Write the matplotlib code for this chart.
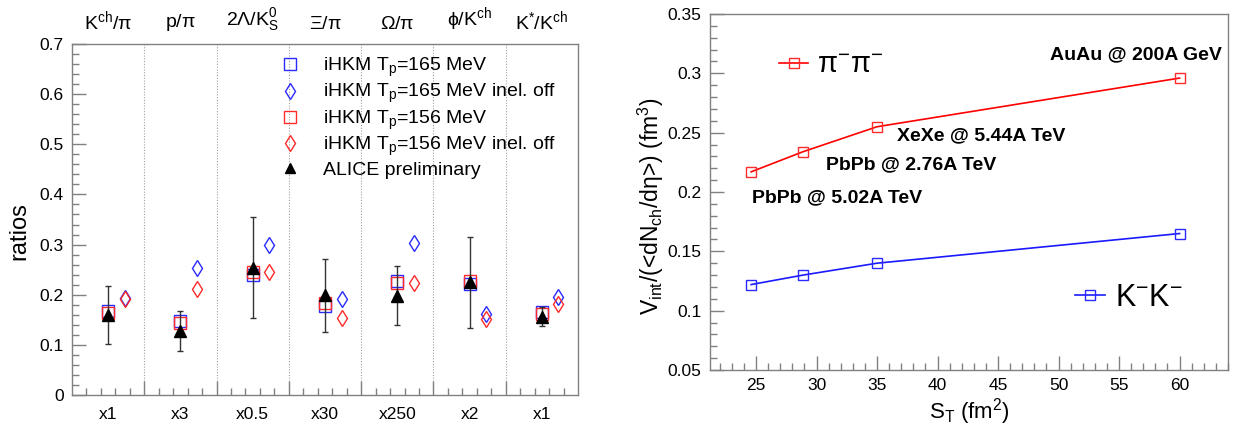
import matplotlib
matplotlib.use("Agg")
import matplotlib.pyplot as plt
from matplotlib.ticker import MultipleLocator, FuncFormatter, NullFormatter, FixedLocator
from matplotlib.lines import Line2D

plt.rcParams['font.family'] = ['Liberation Sans', 'DejaVu Sans']
plt.rcParams['mathtext.fontset'] = 'custom'
plt.rcParams['mathtext.rm'] = 'Liberation Sans'
plt.rcParams['mathtext.it'] = 'Liberation Sans:italic'
plt.rcParams['mathtext.bf'] = 'Liberation Sans:bold'

# ---- particle ratios (left panel) ----
ratio_names = [r'$\mathregular{K^{ch}/\pi}$', r'$\mathregular{p/\pi}$',
               r'$\mathregular{2\Lambda/K^{0}_{S}}$', r'$\mathregular{\Xi/\pi}$',
               r'$\mathregular{\Omega/\pi}$', r'$\mathregular{\phi/K^{ch}}$',
               r'$\mathregular{K^{*}/K^{ch}}$']
scale_labels = ['x1', 'x3', 'x0.5', 'x30', 'x250', 'x2', 'x1']
ihkm_165 = [0.168, 0.147, 0.240, 0.177, 0.228, 0.222, 0.165]
ihkm_165_inel_off = [0.194, 0.254, 0.300, 0.191, 0.304, 0.161, 0.195]
ihkm_156 = [0.163, 0.143, 0.245, 0.183, 0.224, 0.227, 0.162]
ihkm_156_inel_off = [0.191, 0.211, 0.246, 0.154, 0.223, 0.151, 0.181]
alice = [0.160, 0.128, 0.254, 0.199, 0.198, 0.225, 0.156]
alice_err = [0.058, 0.040, 0.101, 0.073, 0.059, 0.091, 0.019]

# ---- interferometry volume (right panel) ----
s_t = [24.6, 28.9, 35.0, 60.0]
v_pipi = [0.217, 0.234, 0.255, 0.296]
v_kk = [0.122, 0.130, 0.140, 0.165]
systems = ['PbPb @ 5.02A TeV', 'PbPb @ 2.76A TeV', 'XeXe @ 5.44A TeV', 'AuAu @ 200A GeV']

W, H = 1239, 428
fig = plt.figure(figsize=(W / 100, H / 100), dpi=100)

frame_col = '#808080'
blue = '#2a2aff'
red = '#ff2a2a'
fmt = FuncFormatter(lambda v, p: '%g' % round(v, 4))


def style_frame(ax):
    for s in ax.spines.values():
        s.set_color(frame_col)
        s.set_linewidth(1.0)
    ax.tick_params(which='both', direction='in', color=frame_col, labelsize=12.5,
                   top=False, right=False, pad=6)
    ax.tick_params(which='major', length=10, width=1.0)
    ax.tick_params(which='minor', length=5, width=1.0)


# ================= left panel =================
axL = fig.add_axes([72 / W, 1 - 395 / H, 506 / W, 351 / H])
style_frame(axL)
n = len(ratio_names)
centers = [i + 0.5 for i in range(n)]
diam_x = [i + 0.73 for i in range(n)]

axL.set_xlim(0, n)
axL.set_ylim(0, 0.7)
axL.yaxis.set_major_locator(MultipleLocator(0.1))
axL.yaxis.set_minor_locator(MultipleLocator(0.02))
axL.yaxis.set_major_formatter(fmt)
axL.xaxis.set_major_locator(FixedLocator(list(range(1, n))))
axL.xaxis.set_minor_locator(FixedLocator([i + f for i in range(n) for f in (0.2, 0.4, 0.6, 0.8)]))
axL.xaxis.set_major_formatter(NullFormatter())
axL.xaxis.set_minor_formatter(NullFormatter())

for i in range(1, n):
    axL.axvline(i, color='#a0a0a0', lw=0.8, ls=(0, (1, 1.5)), zorder=1)

for i in range(n):
    axL.text(centers[i], 1.03, ratio_names[i], transform=axL.get_xaxis_transform(),
             ha='center', va='bottom', fontsize=14)
    axL.text(centers[i], -0.035, scale_labels[i], transform=axL.get_xaxis_transform(),
             ha='center', va='top', fontsize=12.5)

h1, = axL.plot(centers, ihkm_165, ls='none', marker='s', ms=8, mfc='none', mec=blue, mew=1.0,
               label=r'iHKM $\mathregular{T_p}$=165 MeV', zorder=3)
h2, = axL.plot(diam_x, ihkm_165_inel_off, ls='none', marker='d', ms=8, mfc='none', mec=blue,
               mew=1.0, label=r'iHKM $\mathregular{T_p}$=165 MeV inel. off', zorder=3)
h3, = axL.plot(centers, ihkm_156, ls='none', marker='s', ms=8, mfc='none', mec=red, mew=1.0,
               label=r'iHKM $\mathregular{T_p}$=156 MeV', zorder=3)
h4, = axL.plot(diam_x, ihkm_156_inel_off, ls='none', marker='d', ms=8, mfc='none', mec=red,
               mew=1.0, label=r'iHKM $\mathregular{T_p}$=156 MeV inel. off', zorder=3)
axL.errorbar(centers, alice, yerr=alice_err, fmt='^', color='black', ms=8,
             ecolor='#333333', elinewidth=1.0, capsize=2, capthick=1.0, zorder=4)
h5 = Line2D([], [], ls='none', marker='^', color='black', ms=7)

axL.legend([h1, h2, h3, h4, h5],
           [h1.get_label(), h2.get_label(), h3.get_label(), h4.get_label(), 'ALICE preliminary'],
           loc='upper left', bbox_to_anchor=(0.38, 1.005), frameon=False, fontsize=14,
           handlelength=1.2, handletextpad=1.1, labelspacing=0.16, borderpad=0.2)

axL.set_ylabel('ratios', fontsize=17)
axL.yaxis.set_label_coords(-0.083, 0.467)

# ================= right panel =================
axR = fig.add_axes([710 / W, 1 - 370 / H, 518 / W, 356 / H])
style_frame(axR)
axR.set_xlim(21.2, 64.0)
axR.set_ylim(0.05, 0.35)
axR.xaxis.set_major_locator(MultipleLocator(5))
axR.xaxis.set_minor_locator(MultipleLocator(1))
axR.yaxis.set_major_locator(MultipleLocator(0.05))
axR.yaxis.set_minor_locator(MultipleLocator(0.01))
axR.yaxis.set_major_formatter(fmt)
axR.xaxis.set_major_formatter(fmt)

lp, = axR.plot(s_t, v_pipi, color='red', lw=1.2, marker='s', ms=7, mfc='none', mec=red, mew=1.0)
lk, = axR.plot(s_t, v_kk, color='#1a1aff', lw=1.2, marker='s', ms=7, mfc='none', mec=blue, mew=1.0)

leg1 = axR.legend([lp], [r'$\mathregular{\pi^{-}\pi^{-}}$'], loc='center left',
                  bbox_to_anchor=(0.105, 0.857), frameon=False, fontsize=21,
                  handlelength=1.0, handletextpad=0.3, borderpad=0)
axR.add_artist(leg1)
axR.legend([lk], [r'$\mathregular{K^{-}K^{-}}$'], loc='center left',
           bbox_to_anchor=(0.675, 0.202), frameon=False, fontsize=22,
           handlelength=1.0, handletextpad=0.3, borderpad=0)

label_pos = [(0.081, 0.483), (0.224, 0.576), (0.361, 0.657), (0.656, 0.885)]
for txt, (fx, fy) in zip(systems, label_pos):
    axR.text(fx, fy, txt, transform=axR.transAxes, fontsize=14, fontweight='bold',
             ha='left', va='center')

axR.set_xlabel(r'$\mathregular{S_T}$ (fm$\mathregular{^{2}}$)', fontsize=16, labelpad=2)
axR.set_ylabel(r'V$_{\mathregular{int}}$/(<dN$_{\mathregular{ch}}$/d$\mathregular{\eta}$>) (fm$\mathregular{^{3}}$)',
               fontsize=16.5)
axR.yaxis.set_label_coords(-0.085, 0.46)

fig.savefig('out.png', dpi=100)
